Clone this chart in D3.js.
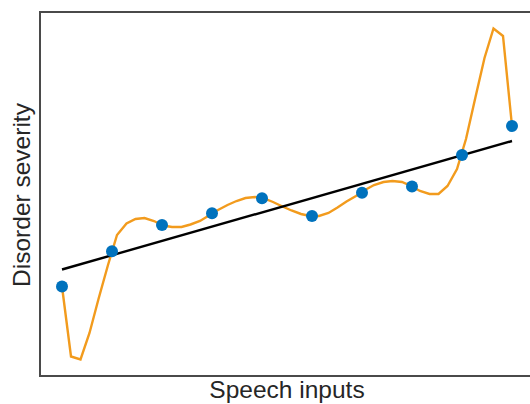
<!DOCTYPE html>
<html>
<head>
<meta charset="utf-8">
<script src="https://cdn.jsdelivr.net/npm/d3@7"></script>
<style>
  body { margin: 0; background: #fff; }
  text { font-family: "Liberation Sans", Arial, sans-serif; fill: #262626; }
</style>
</head>
<body>
<figure id="chart" style="margin:0"></figure>
<script>
// observed speech samples (index) and their severity
const sampleX = [0, 1, 2, 3, 4, 5, 6, 7, 8, 9];
const sampleY = [89.5, 124.7, 151, 162.7, 177.7, 160, 183.3, 189.5, 221, 250];

// polynomial fit, sampled as drawn in the picture
const fitX = [0, 0.18, 0.37, 0.55, 0.73, 0.92, 1.10, 1.29, 1.47, 1.65,
  1.84, 2.02, 2.20, 2.39, 2.57, 2.76, 2.94, 3.12, 3.31, 3.49,
  3.67, 3.86, 4.04, 4.22, 4.41, 4.59, 4.78, 4.96, 5.14, 5.33,
  5.51, 5.69, 5.88, 6.06, 6.24, 6.43, 6.61, 6.80, 6.98, 7.16,
  7.35, 7.53, 7.71, 7.90, 8.08, 8.27, 8.45, 8.63, 8.82, 9.00];
const fitY = [89.5, 19.5, 16.5, 43, 77, 111, 141, 152.5, 157, 158,
  155, 150.5, 149, 149, 151.5, 155, 160.5, 166, 171, 175,
  178, 179, 177.5, 174, 169.5, 165.5, 162, 160, 160, 163,
  168.5, 174.5, 180, 186, 191, 194, 195, 194, 190, 185,
  182, 182, 190, 207, 237, 279, 318, 347.5, 340, 250];

// linear trend endpoints
const trendX = [0, 9];
const trendY = [106.5, 235];

const xLabel = "Speech inputs";
const yLabel = "Disorder severity";

const width = 530, height = 404;
const plot = { left: 40, top: 12, right: 532, bottom: 376 };

const svg = d3.select("#chart")
  .append("svg")
  .attr("width", width)
  .attr("height", height);

const x = d3.scaleLinear().domain([-0.44, 9.4]).range([plot.left, plot.right]);
const y = d3.scaleLinear().domain([0, 364]).range([plot.bottom, plot.top]);

// frame (right edge falls outside the picture)
svg.append("rect")
  .attr("x", plot.left)
  .attr("y", plot.top)
  .attr("width", plot.right + 4 - plot.left)
  .attr("height", plot.bottom - plot.top)
  .attr("fill", "none")
  .attr("stroke", "#4a4a4a")
  .attr("stroke-width", 2);

const line = d3.line().x(d => x(d[0])).y(d => y(d[1]));

svg.append("path")
  .datum(d3.zip(fitX, fitY))
  .attr("d", line)
  .attr("fill", "none")
  .attr("stroke", "#f29b1d")
  .attr("stroke-width", 2.4);

svg.append("path")
  .datum(d3.zip(trendX, trendY))
  .attr("d", line)
  .attr("fill", "none")
  .attr("stroke", "#000")
  .attr("stroke-width", 2.4);

svg.selectAll("circle.pt")
  .data(d3.zip(sampleX, sampleY))
  .enter()
  .append("circle")
  .attr("class", "pt")
  .attr("cx", d => x(d[0]))
  .attr("cy", d => y(d[1]))
  .attr("r", 6)
  .attr("fill", "#0072bd");

svg.append("text")
  .attr("x", 287)
  .attr("y", 398)
  .attr("text-anchor", "middle")
  .style("font-size", "24.5px")
  .text(xLabel);

svg.append("text")
  .attr("transform", "translate(30,195)rotate(-90)")
  .attr("text-anchor", "middle")
  .style("font-size", "24.5px")
  .text(yLabel);
</script>
</body>
</html>
